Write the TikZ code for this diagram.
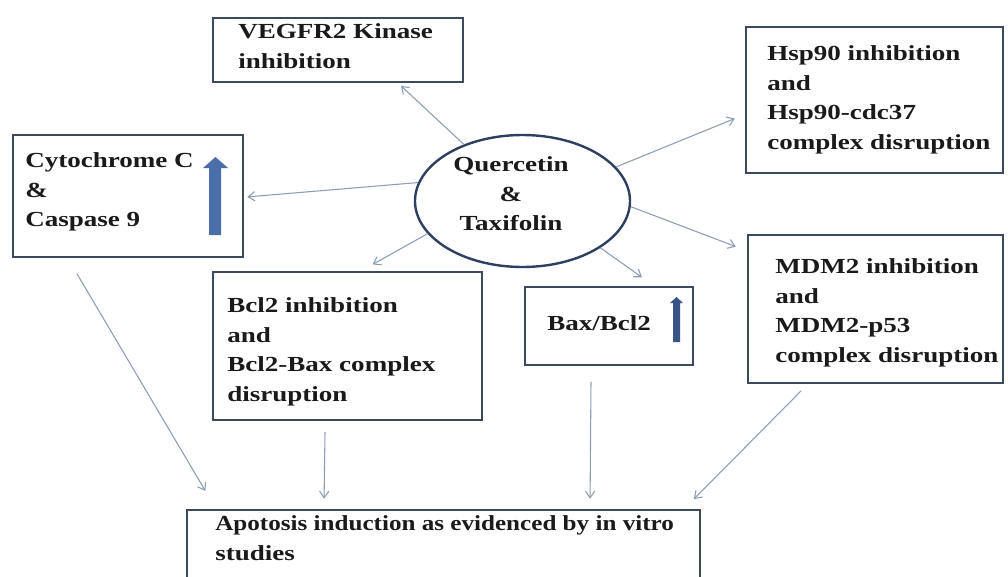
\documentclass[tikz,border=0pt]{standalone}
\usepackage{fontspec}
\setmainfont{Liberation Serif}[FakeStretch=1.26]
\newfontfamily\apofont{Liberation Serif}[FakeStretch=1.17]
\usetikzlibrary{shapes.geometric,arrows.meta,calc,fit}
\definecolor{boxc}{HTML}{3D4A5E}
\definecolor{ellc}{HTML}{2E4060}
\definecolor{connc}{HTML}{8C9DB8}
\definecolor{upc}{HTML}{4A6FA8}
\definecolor{upd}{HTML}{3A5488}
\definecolor{txtc}{HTML}{1A1A1A}
\tikzset{
 box/.style={draw=boxc, line width=1.4pt, inner sep=0pt, rectangle},
 txt/.style={inner sep=0pt, align=left, text=txtc, font=\fontsize{16.1}{22.1}\selectfont\bfseries, anchor=west},
 conn/.style={draw=connc, line width=0.8pt, -{Straight Barb[length=5pt,width=7pt]}, shorten >=1pt},
}
\begin{document}
\begin{tikzpicture}[x=0.75pt,y=-0.75pt]
\useasboundingbox (0,0) rectangle (1008,576);
\clip (0,0) rectangle (1008,576);
\fill[white] (0,0) rectangle (1008,576);

% boxes
\node[box, fit={(213,18) (463,82)}] (vegf) {};
\node[box, fit={(13,135) (243,257)}] (cyto) {};
\node[box, fit={(746,27) (1003,173)}] (hsp) {};
\node[box, fit={(748,235) (1003,383)}] (mdm) {};
\node[box, fit={(213,272) (482,420)}] (bcl) {};
\node[box, fit={(525,287) (693,365)}] (bax) {};
\node[box, fit={(187,510) (700,600)}] (apo) {};
\node[ellipse, draw=ellc, line width=1.8pt, minimum width={215*0.75pt}, minimum height={132*0.75pt}, inner sep=0pt] (q) at (522.5,201) {};

% texts
\node[txt] (vegfT) at (238,46) {VEGFR2 Kinase\\inhibition};
\node[txt] (cytoT) at (25,192) {Cytochrome C\\\&\\Caspase 9};
\node[txt] (hspT) at (767,100) {Hsp90 inhibition\\and\\Hsp90-cdc37\\complex disruption};
\node[txt] (mdmT) at (775,313) {MDM2 inhibition\\and\\MDM2-p53\\complex disruption};
\node[txt] (bclT) at (227,352) {Bcl2 inhibition\\and\\Bcl2-Bax complex\\disruption};
\node[txt] (baxT) at (547,323) {Bax/Bcl2};
\node[txt] (apoT) at (215,538) {\apofont\bfseries Apotosis induction as evidenced by in vitro\\studies};
\node[txt, align=center, anchor=center] (qT) at (511,194) {Quercetin\\\&\\Taxifolin};

% up arrows
\fill[upc] (209,235) -- (209,168) -- (203,168) -- (215.5,157) -- (228,168) -- (221,168) -- (221,235) -- cycle;
\fill[upd] (673,342) -- (673,303) -- (670,303) -- (676.5,297) -- (683,303) -- (680,303) -- (680,342) -- cycle;

% connectors
\draw[conn] (q.136) -- ($(vegf.south)+(62,2)$);
\draw[conn] (q.170) -- ($(cyto.east)+(2,1)$);
\draw[conn] (q.199) -- ($(bcl.north)+(24,-6)$);
\draw[conn] (q.329) -- ($(bax.north)+(34,-8)$);
\draw[conn] (q.20) -- ($(hsp.west)+(-9,18)$);
\draw[conn] (q.357) -- ($(mdm.north west)+(-10,13)$);
\draw[conn] ($(cyto.south west)+(65,16)$) -- ($(apo.north west)+(20,-17)$);
\draw[conn] ($(bcl.south)+(-22.5,11)$) -- ($(apo.north west)+(138,-9)$);
\draw[conn] ($(bax.south)+(-18,16)$) -- ($(apo.north west)+(404,-9)$);
\draw[conn] ($(mdm.south)+(-74.5,7)$) -- ($(apo.north east)+(-8,-9)$);
\end{tikzpicture}
\end{document}
